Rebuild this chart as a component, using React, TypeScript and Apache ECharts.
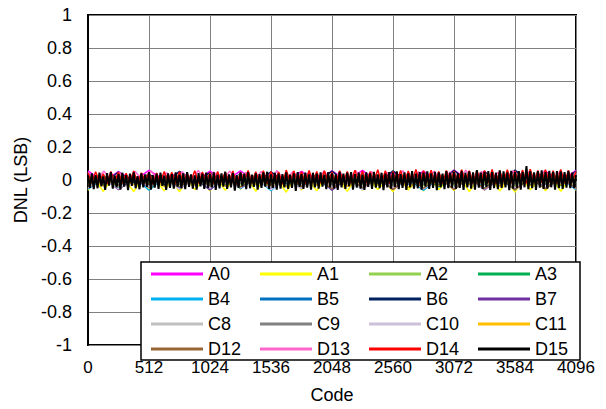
import React, { useEffect, useRef } from "react";
import * as echarts from "echarts";

// DNL values in milli-LSB, evenly spaced over codes 0..4096
const A0 = [55,-10,50,-5,58,0,48,-15,54,-8,56,-12,46,-5,52,-10,55,-6,58,-14,48,-8,54,-10,60,-4,50,-12,56,-8,52,-10,58];
const A1 = [-62,-5,-68,0,-58,-10,-70,5,-60,-8,-66,-2,-72,4,-58,-12,-66,0,-62,-6,-56,2,-68,-4,-62,-10,-74,3,-60,-6,-65,0,
  -59,-8,-69,2,-63,-4,-57,-11,-71,1,-61,-7,-67,3,-58,-9,-64,0,-70,-5,-60,4,-66,-8,-73,2,-59,-6,-65,-1,-68,-4,-62];
const A2 = [-20,25,-35,15,-10,30,-40,20,-25,10,-30,28,-15,22,-38,12,-22,26,-30,18,-12,24,-36,16,-28,20,-18,30,-34,14,-24,22,-20];
const A3 = [15,-30,22,-25,10,-38,28,-20,18,-32,12,-28,25,-36,20,-22,14,-34,26,-30,16,-24,22,-40,12,-26,28,-32,18,-28,24,-34,20];
const B4 = [-55,10,-50,20,-62,15,-48,8,-58,22,-52,12,-65,18,-46,10,-60,16,-54,20,-50,8,-63,14,-56,18,-48,12,-60,20,-52,10,-58];
const B5 = [20,-25,30,-18,12,-30,26,-22,18,-35,24,-20,32,-28,16,-24,28,-32,22,-18,30,-26,14,-34,26,-22,20,-30,34,-24,18,-28,22];
const B6 = [40,-20,48,-15,35,-28,52,-12,44,-22,38,-18,50,-25,42,-16,54,-24,40,-20,56,-14,46,-26,58,-18,50,-22,60,-16,48,-24,54];
const B7 = [-50,15,-58,10,-45,20,-54,12,-60,18,-48,8,-56,16,-52,22,-62,10,-46,14,-58,20,-54,12,-50,18,-60,10,-56,16,-48,14,-54];
const C8 = [25,-20,35,-28,20,-15,38,-25,30,-22,36,-18,28,-30,40,-20,32,-26,38,-16,30,-24,42,-22,34,-18,40,-28,36,-20,44,-24,38];
const C9 = [-15,28,-30,20,-22,32,-26,18,-34,24,-20,30,-28,16,-24,34,-30,22,-18,28,-32,20,-26,36,-22,18,-30,26,-24,32,-28,22,-20];
const C10 = [-48,12,-54,18,-42,10,-56,20,-50,14,-46,16,-58,12,-52,18,-44,10,-60,20,-48,14,-54,16,-50,12,-56,18,-46,14,-52,10,-50];
const C11 = [10,-35,18,-28,24,-40,14,-30,20,-36,12,-26,22,-42,16,-32,24,-38,10,-30,20,-44,18,-34,14,-28,26,-40,16,-36,22,-30,18];
const D12 = [-30,14,-36,20,-28,12,-40,18,-34,16,-42,10,-32,22,-38,14,-54,18,-46,12,-56,20,-50,16,-58,14,-52,18,-60,12,-54,16,-50];
const D13 = [48,-10,54,-6,46,-14,52,-8,56,-12,44,-4,50,-16,58,-8,48,-12,54,-6,46,-10,52,-14,56,-8,50,-12,44,-6,54,-10,
  48,-14,58,-8,52,-4,46,-12,56,-10,50,-6,54,-14,48,-8,60,-12,52,-6,46,-10,56,-8,50,-14,58,-6,54,-10,48];
const D14 = [42,-15,50,-10,38,-22,52,-8,46,-18,40,-12,54,-20,44,-6,48,-24,42,-14,52,-10,46,-20,50,-16,42,-8,56,-18,48,-12,
  44,-20,52,-10,48,-16,54,-22,46,-8,58,-18,50,-14,56,-20,52,-12,48,-24,60,-10,54,-16,50,-20,58,-12,52,-18,56,-14,
  48,-22,56,-10,52,-18,60,-14,54,-20,50,-8,62,-16,56,-22,52,-12,58,-18,54,-10,64,-20,56,-14,60,-16,52,-22,58,-12,
  54,-18,62,-10,56,-20,60,-14,58,-16,64,-22,56,-12,62,-18,54,-10,60,-20,66,-14,58,-16,62,-12,56,-20,64,-18,58,-10,50];
const D15 = [28,-48,40,-55,30,-50,45,-38,22,-60,42,-34,48,-52,26,-44,36,-58,44,-40,30,-62,38,-36,46,-50,24,-56,40,-44,34,-42,
  48,-58,30,-46,38,-54,44,-36,26,-60,40,-48,36,-52,46,-40,32,-50,40,-56,48,-42,34,-52,28,-58,42,-38,38,-54,44,-48,
  36,-44,46,-60,32,-50,40,-40,50,-54,34,-44,42,-64,30,-48,46,-38,38,-56,48,-50,32,-42,40,-58,36,-48,46,-40,50,-54,
  34,-48,44,-58,38,-52,36,-44,46,-54,32,-48,40,-66,48,-42,36,-54,44,-46,34,-58,44,-44,38,-52,46,-40,32,-56,48,-44,
  40,-50,34,-60,50,-44,38,-54,44,-38,48,-58,36,-46,44,-52,32,-60,46,-42,40,-54,50,-46,34,-50,44,-62,38,-44,48,-52,
  44,-42,52,-56,36,-48,46,-60,40,-44,54,-52,38,-50,48,-58,44,-40,52,-54,40,-48,50,-62,46,-44,38,-56,54,-50,44,-46,
  50,-54,40,-48,56,-60,44,-44,52,-52,46,-58,60,-46,44,-54,50,-42,54,-60,48,-50,44,-56,58,-48,52,-44,46,-62,56,-52,
  48,-48,54,-58,50,-44,85,-56,52,-50,46,-60,54,-46,58,-54,48,-52,56,-44,50,-58,54,-50,52,-54,48,-46,56,-50,44,-48,30];

const seriesNames = ["A0","A1","A2","A3","B4","B5","B6","B7","C8","C9","C10","C11","D12","D13","D14","D15"];
const seriesValues = [A0,A1,A2,A3,B4,B5,B6,B7,C8,C9,C10,C11,D12,D13,D14,D15];
const seriesColors = ["#FF00FF","#FFFF00","#92D050","#00B050","#00B0F0","#0070C0","#002060","#7030A0",
  "#BFBFBF","#808080","#CCC0DA","#FFC000","#996633","#FF66CC","#FF0000","#000000"];

const codeMax = 4096;
const codeStep = 512;

export default function App() {
  const ref = useRef<HTMLDivElement>(null);
  useEffect(() => {
    const chart = echarts.init(ref.current!, null, { renderer: "svg" });
    const font = "'Liberation Sans', Arial, sans-serif";
    chart.setOption({
      animation: false,
      backgroundColor: "#fff",
      textStyle: { fontFamily: font },
      grid: { left: 88, right: 30, top: 15, bottom: 63, show: true, borderColor: "#000", borderWidth: 2, backgroundColor: "transparent" },
      legend: {
        left: 141, top: 262, width: 436,
        padding: [3, 0, 2, 10],
        itemGap: 7, itemWidth: 52, itemHeight: 3,
        icon: "rect",
        backgroundColor: "#fff", borderColor: "#000", borderWidth: 1.5,
        textStyle: { fontSize: 18, color: "#000", width: 45, lineHeight: 14.5, fontFamily: font },
        data: seriesNames,
      },
      xAxis: {
        type: "value", min: 0, max: codeMax, interval: codeStep,
        name: "Code", nameLocation: "middle", nameGap: 41,
        nameTextStyle: { fontSize: 18, color: "#000", fontFamily: font },
        axisLine: { show: true, lineStyle: { color: "#000", width: 2 } },
        axisTick: { show: false },
        axisLabel: { fontSize: 17, color: "#000", margin: 14, fontFamily: font, formatter: (v: number) => String(v) },
        splitLine: { show: true, lineStyle: { color: "#808080", width: 1 } },
      },
      yAxis: {
        type: "value", min: -1, max: 1, interval: 0.2,
        name: "DNL (LSB)", nameLocation: "middle", nameGap: 58,
        nameTextStyle: { fontSize: 18, color: "#000", fontFamily: font },
        axisLine: { show: true, lineStyle: { color: "#000", width: 2 } },
        axisTick: { show: false },
        axisLabel: { fontSize: 18, color: "#000", margin: 16, fontFamily: font,
          formatter: (v: number) => String(Math.round(v * 10) / 10) },
        splitLine: { show: true, lineStyle: { color: "#808080", width: 1 } },
      },
      series: seriesNames.map((name, i) => {
        const vals = seriesValues[i];
        const step = codeMax / (vals.length - 1);
        const w = name === "D15" ? 2 : 1.5;
        return {
          name, type: "line", showSymbol: false, symbol: "none",
          color: seriesColors[i],
          lineStyle: { width: w, color: seriesColors[i] },
          data: vals.map((v, k) => [k * step, v / 1000]),
        };
      }),
    });
    return () => chart.dispose();
  }, []);
  return <div ref={ref} style={{ position: "fixed", left: 0, top: 0, width: 606, height: 409, background: "#fff" }} />;
}
